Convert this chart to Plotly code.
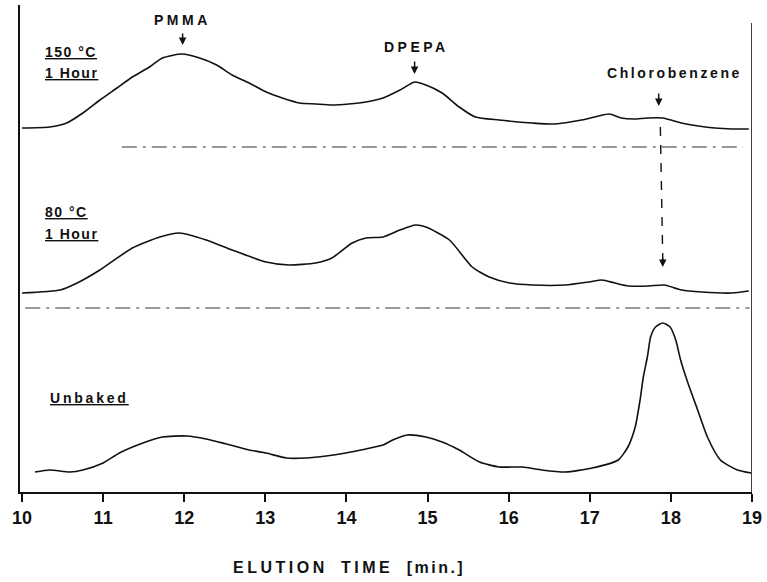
import plotly.graph_objects as go

# ---------------- data ----------------
time_150 = [10.0, 10.34, 10.55, 10.75, 10.96, 11.17, 11.36, 11.57, 11.73, 11.97,
            12.19, 12.40, 12.59, 12.80, 13.01, 13.21, 13.42, 13.62, 13.82, 14.03,
            14.24, 14.45, 14.66, 14.84, 14.98, 15.18, 15.39, 15.59, 15.88, 16.29,
            16.57, 16.90, 17.11, 17.24, 17.39, 17.54, 17.71, 17.90, 18.13, 18.34,
            18.54, 18.75, 18.96]
signal_150 = [1, 2, 6, 16, 29, 41, 52, 62, 71, 75,
              71, 64, 54, 46, 37, 31, 26, 25, 24, 25,
              27, 31, 39, 47, 44, 36, 22, 12, 9, 6,
              5, 9, 13, 15, 11, 10, 11, 11, 6, 3,
              1, 0, 0]

time_80 = [10.0, 10.47, 10.68, 10.96, 11.36, 11.70, 11.94, 12.27, 12.59, 13.01,
           13.29, 13.62, 13.82, 14.07, 14.24, 14.45, 14.66, 14.85, 14.98, 15.27,
           15.55, 15.76, 16.01, 16.29, 16.70, 16.99, 17.15, 17.31, 17.48, 17.73,
           17.92, 18.13, 18.38, 18.75, 18.96]
signal_80 = [0, 3, 10, 23, 45, 56, 60, 53, 43, 31,
             28, 30, 35, 50, 55, 56, 63, 68, 66, 53,
             26, 16, 10, 8, 8, 11, 13, 10, 7, 7,
             8, 3, 1, 0, 2]

time_unbaked = [10.16, 10.34, 10.59, 10.75, 11.00, 11.20, 11.49, 11.73, 12.03, 12.27,
                12.52, 12.80, 13.01, 13.26, 13.50, 13.75, 13.99, 14.24, 14.45, 14.57,
                14.75, 14.98, 15.18, 15.39, 15.64, 15.88, 16.17, 16.41, 16.70, 17.03,
                17.35, 17.47, 17.56, 17.62, 17.66, 17.71, 17.75, 17.81, 17.90, 17.99,
                18.06, 18.12, 18.21, 18.33, 18.45, 18.61, 18.82, 18.99]
signal_unbaked = [2, 4, 2, 4, 11, 21, 31, 37, 38, 35,
                  30, 24, 21, 16, 16, 18, 21, 25, 29, 34,
                  39, 37, 32, 24, 12, 7, 7, 4, 2, 6,
                  14, 27, 47, 74, 97, 117, 137, 147, 151, 147,
                  134, 114, 91, 64, 37, 14, 4, 1]

x_ticks = [10, 11, 12, 13, 14, 15, 16, 17, 18, 19]

# ---------------- layout constants ----------------
OFFSET_150 = 363
OFFSET_80 = 199
OFFSET_UNBAKED = 18
Y_TOP = 487
FONT = "Liberation Sans"

fig = go.Figure()
for t, s, off in [(time_150, signal_150, OFFSET_150),
                  (time_80, signal_80, OFFSET_80),
                  (time_unbaked, signal_unbaked, OFFSET_UNBAKED)]:
    fig.add_trace(go.Scatter(
        x=t, y=[off + v for v in s], mode="lines",
        line=dict(color="#111111", width=1.6, shape="spline", smoothing=0.6),
        showlegend=False, hoverinfo="skip"))

shapes = [
    # separators between stacked chromatograms
    dict(type="line", xref="x", yref="y", x0=11.23, x1=18.89, y0=345, y1=345,
         line=dict(color="#333333", width=1.2, dash="longdashdot")),
    dict(type="line", xref="x", yref="y", x0=10.04, x1=18.97, y0=184, y1=184,
         line=dict(color="#333333", width=1.2, dash="longdashdot")),
    # right frame line
    dict(type="line", xref="x", yref="y", x0=19, x1=19, y0=0, y1=469,
         line=dict(color="#111111", width=1.6)),
    # dashed chlorobenzene guide
    dict(type="line", xref="x", yref="y", x0=17.87, x1=17.90, y0=365, y1=232,
         line=dict(color="#111111", width=1.4, dash="dash")),
]

lab_font = dict(family=FONT, size=14, color="#111111", weight="bold")


def spaced(txt, sp):
    return f'<span style="letter-spacing:{sp}px">{txt}</span>'


annotations = [
    dict(x=10.258, y=440, text="<u>" + spaced("150 °C", 1.5) + "</u>"),
    dict(x=10.258, y=419, text="<u>" + spaced("1 Hour", 1.5) + "</u>"),
    dict(x=10.258, y=280, text="<u>" + spaced("80 °C", 1.5) + "</u>"),
    dict(x=10.258, y=258, text="<u>" + spaced("1 Hour", 1.5) + "</u>"),
    dict(x=10.32, y=94, text="<u>" + spaced("Unbaked", 2.8) + "</u>"),
]
for a in annotations:
    a.update(xref="x", yref="y", xanchor="left", yanchor="middle",
             showarrow=False, font=lab_font)

peak_labels = [
    dict(x=11.98, y=472, text=spaced("PMMA", 3.5)),
    dict(x=14.86, y=445, text=spaced("DPEPA", 3.5)),
    dict(x=18.04, y=419, text=spaced("Chlorobenzene", 2.6)),
]
for a in peak_labels:
    a.update(xref="x", yref="y", xanchor="center", yanchor="middle",
             showarrow=False, font=dict(family=FONT, size=14, color="#111111", weight="bold"))
annotations += peak_labels

arrows = [
    dict(x=11.98, y=447, ay=-13),
    dict(x=14.84, y=418, ay=-14),
    dict(x=17.85, y=386, ay=-14),
    dict(x=17.90, y=225, ay=-10),
]
for a in arrows:
    a.update(xref="x", yref="y", ax=0, text="", showarrow=True,
             arrowhead=2, arrowsize=1, arrowwidth=1.5, arrowcolor="#111111")
annotations += arrows

annotations.append(dict(
    xref="paper", yref="paper", x=0.45, y=0, yshift=-75, xanchor="center", yanchor="middle",
    showarrow=False, text=spaced("ELUTION", 3.5) + "   " + spaced("TIME", 3.5) + "   " + spaced("[min.]", 2.5),
    font=dict(family=FONT, size=16, color="#111111", weight="bold")))

fig.update_layout(
    width=767, height=582,
    margin=dict(l=20, r=12, t=5, b=90),
    paper_bgcolor="white", plot_bgcolor="white",
    shapes=shapes, annotations=annotations,
    xaxis=dict(range=[9.975, 19.0], tickvals=x_ticks, ticktext=[str(v) for v in x_ticks],
               showline=True, linecolor="#111111", linewidth=2,
               ticks="outside", ticklen=8, tickwidth=2, tickcolor="#111111",
               showgrid=False, zeroline=False,
               tickfont=dict(family=FONT, size=18, color="#111111", weight="bold")),
    yaxis=dict(range=[0, Y_TOP], showline=True, linecolor="#111111", linewidth=1.6,
               showticklabels=False, ticks="", showgrid=False, zeroline=False),
)

fig.write_html("out.html", config={"displayModeBar": False},
               post_script="document.body.style.margin='0';document.body.style.padding='0';")
